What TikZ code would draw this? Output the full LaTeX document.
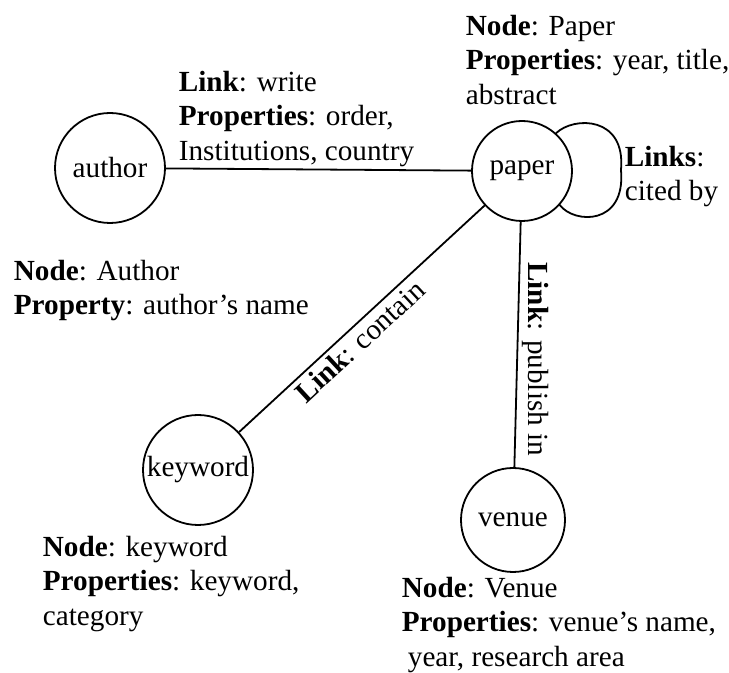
\documentclass[tikz,border=0pt]{standalone}
\usepackage{fontspec}
\setmainfont{Liberation Serif}

\begin{document}
\begin{tikzpicture}[line cap=round,line join=round,line width=0.9pt,x=0.5pt,y=-0.5pt,
  every node/.style={font=\fontsize{14.6}{17.3}\selectfont},
  entity/.style={circle,draw,inner sep=0pt},
  info/.style={align=left,anchor=north west,inner sep=0pt}]
\useasboundingbox (0,0) rectangle (729,673);

% entities
\node[entity,minimum size=55pt] (author) at (110,168) {author};
\node[entity,minimum size=50pt] (paper) at (522,171) {paper};
\node[entity,minimum size=55pt] (keyword) at (198,470) {keyword};
\node[entity,minimum size=52pt] (venue) at (513,520) {venue};

% links
\draw (author) -- (paper);
\draw (paper) -- node[sloped,below,pos=0.55,inner sep=2pt] {\textbf{Link}: contain} (keyword);
\draw (paper) -- node[rotate=-90,anchor=south,pos=0.56,inner sep=2pt] {\textbf{Link}: publish in} (venue);
\draw (paper.48) .. controls (574,116) and (626,116) .. (621,170)
                 .. controls (626,226) and (574,224) .. (paper.-42);

% descriptions
\node[info] (paperinfo) at (465,14) {\textbf{Node}: Paper\\\textbf{Properties}: year, title,\\abstract};
\node[info] (writeinfo) at (178,70) {\textbf{Link}: write\\\textbf{Properties}: order,\\Institutions, country};
\node[info] (citeinfo) at (624,145) {\textbf{Links}:\\cited by};
\node[info] (authorinfo) at (13,259) {\textbf{Node}: Author\\\textbf{Property}: author's name};
\node[info] (keywordinfo) at (42,535) {\textbf{Node}: keyword\\\textbf{Properties}: keyword,\\category};
\node[info] (venueinfo) at (401,576) {\textbf{Node}: Venue\\\textbf{Properties}: venue's name,\\\hspace*{3pt}year, research area};

\end{tikzpicture}
\end{document}
